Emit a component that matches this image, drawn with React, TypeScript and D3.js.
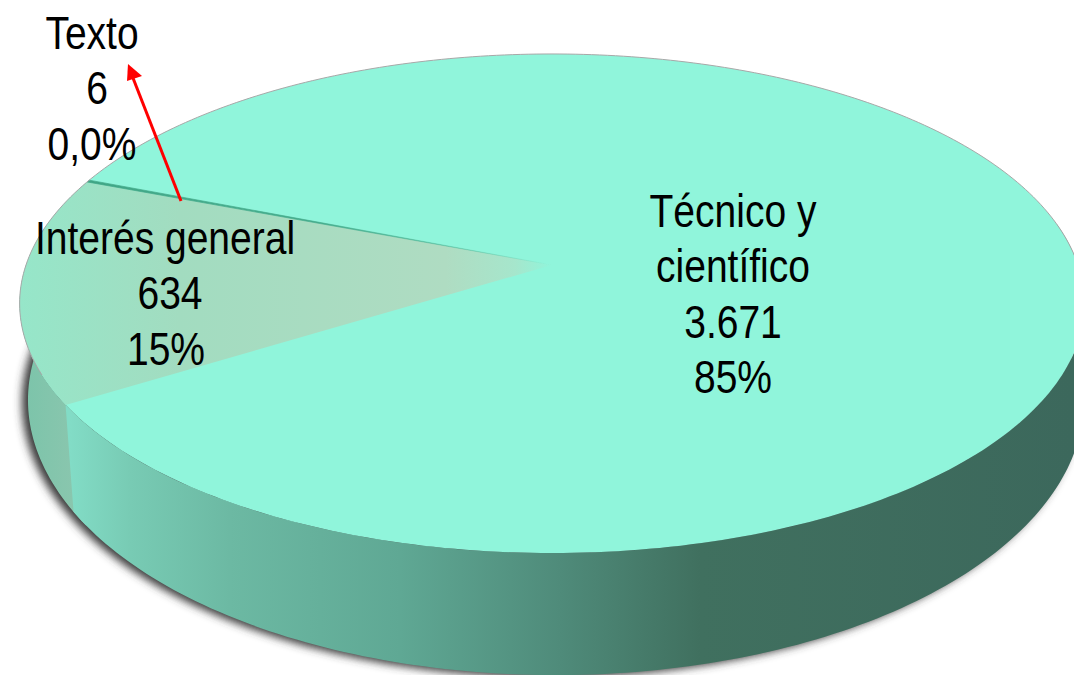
import React from "react";
import * as d3 from "d3";

const categories = ["Técnico y científico", "Interés general", "Texto"];
const values = [3671, 634, 6];
const labelLines = [
  ["Técnico y", "científico", "3.671", "85%"],
  ["Interés general", "634", "15%"],
  ["Texto", "6", "0,0%"],
];
const labelAnchors = [
  { x: 733, y: 227 },
  { x: 165, y: 254 },
  { x: 92, y: 49 },
];
const labelNudges = [
  [0, 0, 0, 0],
  [0, 5, 1],
  [0, 5, 0],
];
const sliceFills = ["#90f5db", "url(#generalTop)", "url(#textoLine)"];

const W = 1074;
const H = 675;
const K = -0.1543;
const rad = (deg: number) => (deg * Math.PI) / 180;
const topDisc = { x: 552, y: 265, b: 526, a: 243.6 };
const bottomDisc = { x: 556, y: 357.6, b: 521.7, a: 268.5 };
type Disc = typeof topDisc;

const project = (disc: Disc, angle: number, r = 1): [number, number] => {
  const u = Math.sin(angle) * r;
  const v = -Math.cos(angle) * r;
  const d = 1 + K * v;
  return [disc.x + (disc.b * u) / d, disc.y + (disc.a * v) / d];
};

const line = d3.line<[number, number]>().x((p) => p[0]).y((p) => p[1]);
const sweep = (disc: Disc, from: number, to: number) => {
  const n = Math.max(2, Math.ceil(Math.abs(to - from) / rad(1)));
  return d3.range(n + 1).map((i) => project(disc, from + ((to - from) * i) / n));
};

const pie = d3.pie<number>().sort(null).startAngle(rad(291.6)).endAngle(rad(291.6 + 360));
const arcs = pie(values);

const wedge = (a0: number, a1: number) =>
  line([project(topDisc, 0, 0), ...sweep(topDisc, a0, a1)]) + "Z";
const wall = (a0: number, a1: number) =>
  line([...sweep(topDisc, a0, a1), ...sweep(bottomDisc, a1, a0)]) + "Z";

const generalStart = arcs[1].startAngle;
const leftMost = rad(630);
const wallStops: [number, string][] = [
  [70, "#82dcc6"],
  [130, "#78cbb4"],
  [230, "#6cb9a3"],
  [400, "#5fa894"],
  [560, "#4f8b7a"],
  [700, "#40705f"],
  [1074, "#3c685c"],
];

export default function App() {
  const technical = wall(rad(440), generalStart);
  const general = wall(generalStart - rad(3), leftMost);
  const outline = line(sweep(topDisc, rad(245), rad(460)));
  const shadowPath = line(sweep(bottomDisc, 0, Math.PI * 2)) + "Z";
  const discPath = line(sweep(topDisc, 0, Math.PI * 2)) + "Z";
  return (
    <svg
      width={W}
      height={H}
      viewBox={`0 0 ${W} ${H}`}
      style={{ position: "absolute", left: 0, top: 0, display: "block", background: "#fff" }}
    >
      <defs>
        <filter id="blur" x="-10%" y="-10%" width="120%" height="120%">
          <feGaussianBlur stdDeviation="4.5" />
        </filter>
        <linearGradient id="technicalWall" gradientUnits="userSpaceOnUse" x1={70} x2={1074} y1={0} y2={0}>
          {wallStops.map(([x, c]) => (
            <stop key={x} offset={(x - 70) / 1004} stopColor={c} />
          ))}
        </linearGradient>
        <linearGradient id="generalWall" gradientUnits="userSpaceOnUse" x1={25} x2={75} y1={0} y2={0}>
          <stop offset={0} stopColor="#7cc4aa" />
          <stop offset={1} stopColor="#8ac6ae" />
        </linearGradient>
        <linearGradient id="generalTop" gradientUnits="userSpaceOnUse" x1={20} x2={552} y1={0} y2={0}>
          <stop offset={0} stopColor="#96e6c9" />
          <stop offset={0.3} stopColor="#a2dcc0" />
          <stop offset={0.8} stopColor="#afdcc2" />
          <stop offset={0.93} stopColor="#a6e6cc" />
          <stop offset={1} stopColor="#90f5db" />
        </linearGradient>
        <linearGradient id="textoLine" gradientUnits="userSpaceOnUse" x1={85} x2={552} y1={0} y2={0}>
          <stop offset={0} stopColor="#3fa585" stopOpacity={1} />
          <stop offset={0.5} stopColor="#3fa585" stopOpacity={0.85} />
          <stop offset={1} stopColor="#3fa585" stopOpacity={0} />
        </linearGradient>
      </defs>

      <path d={shadowPath} fill="#3a3a3a" filter="url(#blur)" transform="translate(-6,2)" />
      <path d={general} fill="url(#generalWall)" />
      <path d={technical} fill="url(#technicalWall)" />
      <path d={discPath} fill={sliceFills[0]} />

      {arcs.slice(1).map((s, i) => (
        <path
          key={categories[i + 1]}
          d={wedge(s.startAngle, s.endAngle)}
          fill={sliceFills[i + 1]}
          stroke={i === 1 ? sliceFills[i + 1] : "none"}
          strokeWidth={i === 1 ? 0.7 : 0}
        />
      ))}
      <path d={outline ?? ""} fill="none" stroke="#a8a8a8" strokeWidth={1} />

      <line x1={181} y1={201} x2={133} y2={78} stroke="#ff0000" strokeWidth={3} />
      <path d={line([[128, 64], [142, 76], [127, 81]]) + "Z"} fill="#ff0000" />

      {labelLines.map((lines, i) => (
        <g key={categories[i]} transform={`translate(${labelAnchors[i].x},${labelAnchors[i].y}) scale(0.83,1)`}>
          {lines.map((t, j) => (
            <text
              key={t}
              x={labelNudges[i][j] / 0.83}
              y={j * 55.3}
              textAnchor="middle"
              fontFamily="'Liberation Sans', Arial, sans-serif"
              fontSize={47}
              fill="#000"
            >
              {t}
            </text>
          ))}
        </g>
      ))}
    </svg>
  );
}
